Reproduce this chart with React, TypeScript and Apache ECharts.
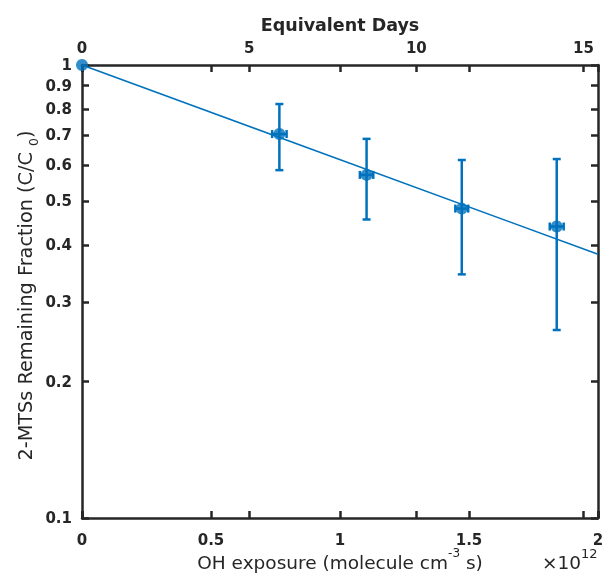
import React, { useEffect, useRef } from 'react';
import * as echarts from 'echarts';

// OH exposure in units of 10^12 molecule cm^-3 s
const ohExposure = [0, 0.765, 1.103, 1.472, 1.84];
const ohExposureErr = [0, 0.028, 0.026, 0.025, 0.027];
// 2-MTSs remaining fraction C/C0
const remainingFraction = [1, 0.704, 0.572, 0.482, 0.44];
const fractionLow = [1, 0.586, 0.456, 0.345, 0.26];
const fractionHigh = [1, 0.82, 0.687, 0.617, 0.62];
// exponential fit (straight on log axis)
const fitX = [0, 2];
const fitY = [1, 0.382];

const xTicks = [0, 0.5, 1, 1.5, 2];
const dayTicks = [0, 5, 10, 15];
const yTicks = [0.1, 0.2, 0.3, 0.4, 0.5, 0.6, 0.7, 0.8, 0.9, 1];

const OH_CONC = 1.5e6; // molecule cm^-3
const SECONDS_PER_DAY = 86400;
const X_MIN = xTicks[0];
const X_MAX = xTicks[xTicks.length - 1];
const X_STEP = xTicks[1] - xTicks[0];
const DAY_STEP = dayTicks[1] - dayTicks[0];
const DAYS_MAX = (X_MAX * 1e12) / (OH_CONC * SECONDS_PER_DAY);

const FONT = "'DejaVu Sans', 'Liberation Sans', Arial, sans-serif";
const DARK = '#262626';
const BLUE = '#0072BD';

export default function App() {
  const ref = useRef<HTMLDivElement>(null);
  useEffect(() => {
    if (!ref.current) return;
    const chart = echarts.init(ref.current, null, { renderer: 'svg' });
    const axisLine = { show: true, onZero: false, lineStyle: { color: DARK, width: 2.5 } };
    const noLine = { show: false, onZero: false };
    const tick = { show: true, inside: true, length: 7, lineStyle: { color: DARK, width: 2.5 } };
    const labelStyle = { color: DARK, fontFamily: FONT, fontWeight: 'bold' as const, fontSize: 15 };
    const fmtY = (v: number) => String(+Number(v).toPrecision(2));
    const titleSize = 18.5;

    const errData = ohExposure.map((x, i) => [x, remainingFraction[i], fractionLow[i], fractionHigh[i], ohExposureErr[i]]);

    chart.setOption({
      animation: false,
      grid: { left: 82, top: 65, right: 6, bottom: 62, containLabel: false, outerBoundsMode: 'none' },
      xAxis: [
        {
          type: 'value', position: 'bottom', min: X_MIN, max: X_MAX, interval: X_STEP,
          axisLine, axisTick: tick, splitLine: { show: false },
          axisLabel: { ...labelStyle, margin: 14, formatter: (v: number) => String(v) },
          name: 'OH exposure (molecule cm{sup|-3} s)', nameLocation: 'middle', nameGap: 29, nameMoveOverlap: false,
          nameTextStyle: {
            fontFamily: FONT, fontSize: titleSize, color: DARK, lineHeight: 30,
            rich: { sup: { fontFamily: FONT, fontSize: 12, color: DARK, verticalAlign: 'top', lineHeight: 30 } },
          },
        },
        {
          type: 'value', position: 'top', min: 0, max: DAYS_MAX, interval: DAY_STEP,
          axisLine, axisTick: tick, splitLine: { show: false },
          axisLabel: { ...labelStyle, margin: 10, showMaxLabel: false },
          name: 'Equivalent Days', nameLocation: 'middle', nameGap: 31, nameMoveOverlap: false,
          nameTextStyle: { fontFamily: FONT, fontSize: 17.5, color: DARK, fontWeight: 'bold' },
        },
        {
          type: 'value', position: 'top', min: X_MIN, max: X_MAX, interval: X_STEP,
          axisLine: noLine, axisTick: tick, axisLabel: { show: false }, splitLine: { show: false },
        },
        {
          type: 'value', position: 'bottom', min: 0, max: DAYS_MAX, interval: DAY_STEP,
          axisLine: noLine, axisTick: tick, axisLabel: { show: false }, splitLine: { show: false },
        },
      ],
      yAxis: [
        {
          type: 'log', logBase: 10, min: yTicks[0], max: yTicks[yTicks.length - 1], position: 'left',
          axisLine, axisTick: { ...tick, customValues: yTicks }, splitLine: { show: false },
          minorTick: { show: false }, minorSplitLine: { show: false },
          axisLabel: { ...labelStyle, margin: 10, customValues: yTicks, formatter: fmtY },
          name: '2-MTSs Remaining Fraction (C/C {sub|0})', nameLocation: 'middle', nameGap: 42, nameRotate: 90,
          nameMoveOverlap: false,
          nameTextStyle: {
            fontFamily: FONT, fontSize: 19.3, color: DARK, lineHeight: 30, padding: [0, 8, 0, 0],
            rich: { sub: { fontFamily: FONT, fontSize: 12.5, color: DARK, verticalAlign: 'bottom', lineHeight: 30 } },
          },
        },
        {
          type: 'log', logBase: 10, min: yTicks[0], max: yTicks[yTicks.length - 1], position: 'right',
          axisLine, axisTick: { ...tick, customValues: yTicks }, splitLine: { show: false },
          axisLabel: { show: false },
        },
      ],
      graphic: [
        {
          type: 'text', left: 542, top: 547,
          style: {
            text: '×10{sup|12}', fontFamily: FONT, fontSize: titleSize, fill: DARK,
            rich: { sup: { fontFamily: FONT, fontSize: 13, fill: DARK, verticalAlign: 'top', lineHeight: 30 } },
            lineHeight: 30,
          },
        },
      ],
      series: [
        {
          type: 'line', xAxisIndex: 0, yAxisIndex: 0, z: 2,
          data: fitX.map((x, i) => [x, fitY[i]]),
          showSymbol: false, symbol: 'none',
          lineStyle: { color: BLUE, width: 1.5 },
        },
        {
          type: 'custom', xAxisIndex: 0, yAxisIndex: 0, z: 3, clip: false,
          data: errData,
          encode: { x: 0, y: 1 },
          renderItem: (_p: any, api: any) => {
            const x = api.value(0), y = api.value(1), lo = api.value(2), hi = api.value(3), xe = api.value(4);
            const children: any[] = [];
            const st = { stroke: BLUE, lineWidth: 2.5 };
            const cap = 4;
            if (hi !== lo) {
              const a = api.coord([x, hi]);
              const b = api.coord([x, lo]);
              children.push({ type: 'line', shape: { x1: a[0], y1: a[1], x2: b[0], y2: b[1] }, style: st });
              children.push({ type: 'line', shape: { x1: a[0] - cap, y1: a[1], x2: a[0] + cap, y2: a[1] }, style: st });
              children.push({ type: 'line', shape: { x1: b[0] - cap, y1: b[1], x2: b[0] + cap, y2: b[1] }, style: st });
            }
            if (xe > 0) {
              const l = api.coord([x - xe, y]);
              const r = api.coord([x + xe, y]);
              children.push({ type: 'line', shape: { x1: l[0], y1: l[1], x2: r[0], y2: r[1] }, style: st });
              children.push({ type: 'line', shape: { x1: l[0], y1: l[1] - cap, x2: l[0], y2: l[1] + cap }, style: st });
              children.push({ type: 'line', shape: { x1: r[0], y1: r[1] - cap, x2: r[0], y2: r[1] + cap }, style: st });
            }
            return { type: 'group', children };
          },
        },
        {
          type: 'scatter', xAxisIndex: 0, yAxisIndex: 0, z: 4, clip: false,
          data: ohExposure.map((x, i) => [x, remainingFraction[i]]),
          symbol: 'circle', symbolSize: 12,
          itemStyle: { color: BLUE },
        },
      ],
    });
    return () => chart.dispose();
  }, []);
  return <div ref={ref} style={{ position: 'fixed', left: 0, top: 0, width: 604, height: 580 }} />;
}
